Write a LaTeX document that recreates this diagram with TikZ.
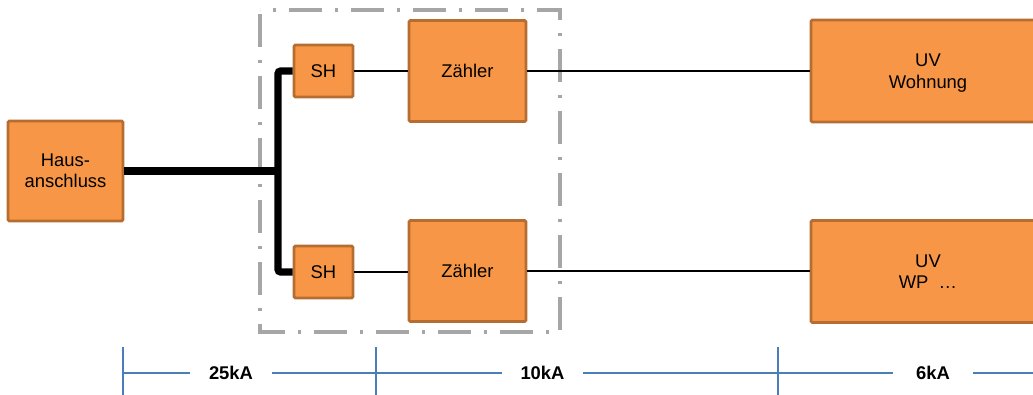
\documentclass[tikz,border=0pt]{standalone}
\usepackage{fontspec}
\setmainfont{Liberation Sans}
\definecolor{boxfill}{HTML}{F79646}
\definecolor{boxdraw}{HTML}{B66D31}
\definecolor{dimblue}{HTML}{4A7EBB}
\definecolor{framegray}{HTML}{A6A6A6}
\tikzset{
  box/.style={draw=boxdraw, fill=boxfill, line width=2.1pt, rounded corners=1pt,
    align=center, inner sep=0pt, font=\fontsize{13.8}{16}\selectfont},
  busline/.style={line width=5.4pt, rounded corners=2pt},
  wire/.style={line width=1.3pt},
  dimline/.style={draw=dimblue, line width=0.9pt},
  dimlabel/.style={fill=white, inner sep=0pt, minimum height=18pt,
    font=\fontsize{13.8}{16}\selectfont\bfseries},
}
\begin{document}
\begin{tikzpicture}[x=0.75pt, y=-0.75pt]
\clip (0,0) rectangle (1033,394);
\fill[white] (0,0) rectangle (1033,394);
% dash-dot frame
\draw[framegray, line width=2.6pt, dash pattern=on 24.75pt off 9.75pt on 2.25pt off 9.75pt, dash phase=-3pt]
  (260,10) rectangle (560,332);
% boxes
\node[box, minimum width=86.25pt, minimum height=75pt] (haus) at (65.5,171) {Haus-\\anschluss};
\node[box, minimum width=44.25pt, minimum height=39pt] (sh1) at (323.5,71) {SH};
\node[box, minimum width=44.25pt, minimum height=39pt] (sh2) at (323.5,272) {SH};
\node[box, minimum width=87.75pt, minimum height=75.75pt] (z1) at (467.5,71) {Zähler};
\node[box, minimum width=87.75pt, minimum height=75.75pt] (z2) at (467.5,271) {Zähler};
\node[box, minimum width=175.5pt, minimum height=76.5pt, text depth=-2pt] (uv1) at (928,71) {UV\\Wohnung};
\node[box, minimum width=175.5pt, minimum height=76.5pt, text depth=-2pt] (uv2) at (928,271.5) {UV\\WP\ \ …};
% bus
\coordinate (bus) at (278,171);
\draw[busline] (haus.east) -- (bus);
\draw[busline] (sh1.west) -| (bus) |- (sh2.west);
% wires
\draw[wire] (sh1.east) -- (z1.west);
\draw[wire] (sh2.east) -- (sh2.east -| z2.west);
\draw[wire] (z1.east) -- (z1.east -| uv1.west);
\draw[wire] (z2.east) -- (z2.east -| uv2.west);
% dimension line
\coordinate (d0) at (123,373);
\coordinate (dend) at (1040,373);
\coordinate (t1) at (123,347);
\coordinate (t2) at (376,347);
\coordinate (t3) at (778,347);
\draw[dimline] (d0) -- (dend);
\draw[dimline] (t1) -- (123,400);
\draw[dimline] (t2) -- (376,400);
\draw[dimline] (t3) -- (778,400);
\node[dimlabel, minimum width=61.5pt] (l1) at (231,373) {25kA};
\node[dimlabel, minimum width=60.75pt] (l2) at (542.5,373) {10kA};
\node[dimlabel, minimum width=60pt] (l3) at (933,373) {6kA};
\end{tikzpicture}
\end{document}
